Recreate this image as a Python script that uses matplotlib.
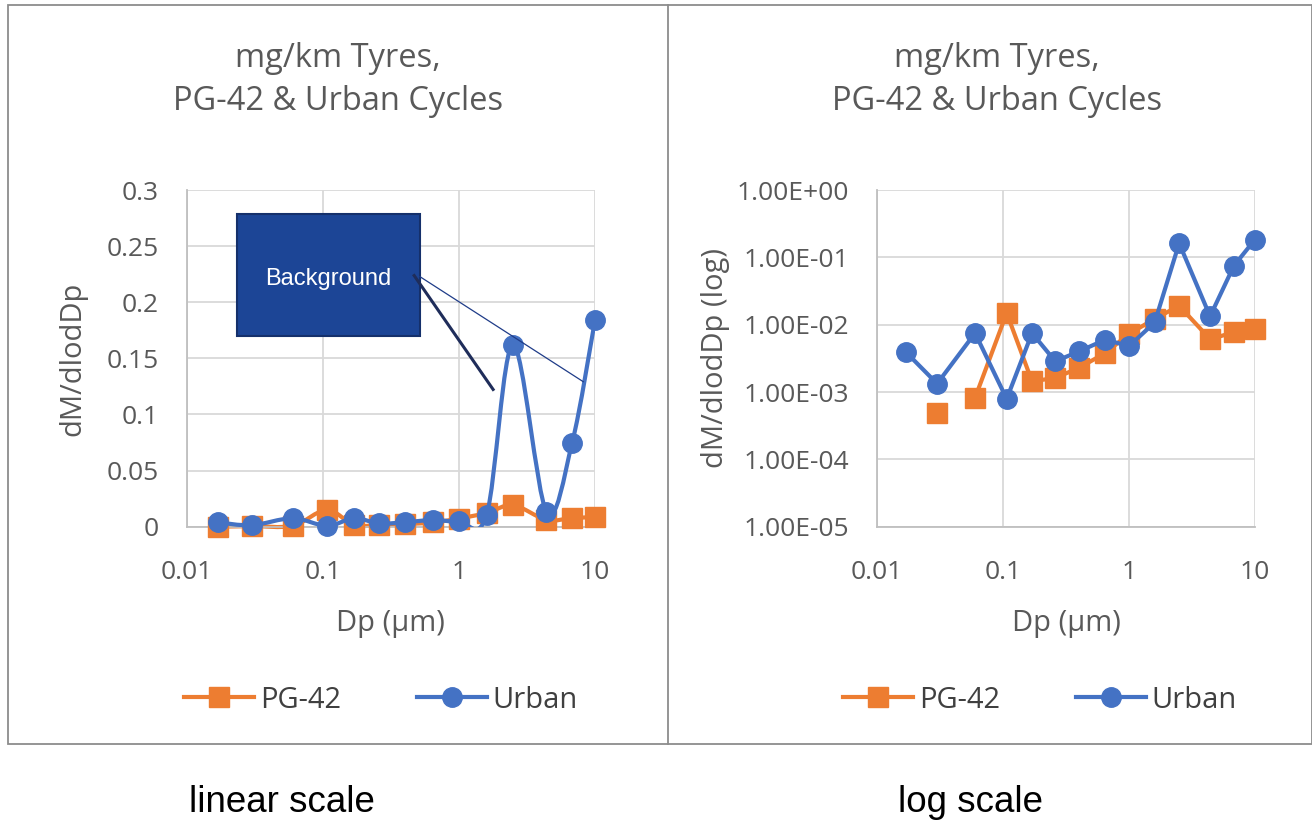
import numpy as np
import matplotlib
matplotlib.use("Agg")
import matplotlib.pyplot as plt
from matplotlib.path import Path
from matplotlib.patches import PathPatch, Rectangle
from matplotlib.lines import Line2D
from matplotlib.ticker import FixedLocator, FuncFormatter

# data
dp = [0.017, 0.030, 0.060, 0.107, 0.17, 0.26, 0.40, 0.65, 1.0, 1.6, 2.5, 4.4, 6.8, 10.0]
pg42 = [0.0, 0.00049, 0.00082, 0.0149, 0.00144, 0.00162, 0.00228, 0.0038, 0.0073,
        0.0122, 0.0191, 0.0061, 0.0077, 0.0086]
urban = [0.0039, 0.00133, 0.0075, 0.00079, 0.0075, 0.00286, 0.0040, 0.0060, 0.0048,
         0.0108, 0.162, 0.0133, 0.075, 0.184]

title = "mg/km Tyres,\nPG-42 & Urban Cycles"
lin_yticks = [0, 0.05, 0.1, 0.15, 0.2, 0.25, 0.3]
log_yticks = [1e-5, 1e-4, 1e-3, 1e-2, 1e-1, 1e0]
xticks = [0.01, 0.1, 1, 10]

ORANGE = "#ed7d31"
BLUE = "#4472c4"
GRAY = "#595959"
GRID = "#d9d9d9"
FONT = "Open Sans"

plt.rcParams["font.family"] = [FONT, "DejaVu Sans"]


def smooth_path(x, y):
    # excel-like smoothed line: cubic bezier through the points, built in log-x space
    u = np.log10(np.asarray(x, float))
    v = np.asarray(y, float)
    n = len(u)
    verts = [(x[0], v[0])]
    codes = [Path.MOVETO]
    for i in range(n - 1):
        i0 = max(i - 1, 0)
        i3 = min(i + 2, n - 1)
        c1u = u[i] + (u[i + 1] - u[i0]) / 6
        c1v = v[i] + (v[i + 1] - v[i0]) / 6
        c2u = u[i + 1] - (u[i3] - u[i]) / 6
        c2v = v[i + 1] - (v[i3] - v[i]) / 6
        verts += [(10 ** c1u, c1v), (10 ** c2u, c2v), (x[i + 1], v[i + 1])]
        codes += [Path.CURVE4] * 3
    return Path(verts, codes)


def style_axes(ax):
    ax.set_xscale("log")
    ax.set_xlim(0.01, 10)
    ax.xaxis.set_major_locator(FixedLocator(xticks))
    ax.xaxis.set_minor_locator(FixedLocator([]))
    ax.xaxis.set_major_formatter(FuncFormatter(lambda v, p: "{:g}".format(v)))
    ax.grid(True, color=GRID, linewidth=1.3)
    ax.set_axisbelow(True)
    for s in ["top", "right"]:
        ax.spines[s].set_visible(False)
    for s in ["left", "bottom"]:
        ax.spines[s].set_color("#bfbfbf")
        ax.spines[s].set_linewidth(1.3)
    ax.tick_params(length=0, labelsize=19, labelcolor=GRAY, pad=20)
    ax.tick_params(axis="x", pad=24)
    ax.set_xlabel("Dp (µm)", fontsize=21, color=GRAY, labelpad=17)


fig = plt.figure(figsize=(13.12, 8.24), dpi=100)

# panel borders
fig.add_artist(Rectangle((8 / 1312, 1 - 744 / 824), 1304 / 1312, 739 / 824,
                         transform=fig.transFigure, fill=False, edgecolor="#8c8c8c", lw=1.3))
fig.add_artist(Line2D([668 / 1312, 668 / 1312], [1 - 744 / 824, 1 - 5 / 824],
                      transform=fig.transFigure, color="#8c8c8c", lw=1.3))

ms = 14
# ---- linear panel
ax1 = fig.add_axes([186.7 / 1312, 1 - 526.7 / 824, 408.3 / 1312, 336.7 / 824])
style_axes(ax1)
ax1.set_ylim(0, 0.3)
ax1.yaxis.set_major_locator(FixedLocator(lin_yticks))
ax1.yaxis.set_major_formatter(FuncFormatter(lambda v, p: "{:g}".format(v)))
ax1.set_ylabel("dM/dlodDp", fontsize=21, color=GRAY, labelpad=14)

ax1.add_patch(PathPatch(smooth_path(dp, pg42), fill=False, edgecolor=ORANGE, lw=3,
                        zorder=2, clip_on=False))
ax1.plot(dp, pg42, ls="none", marker="s", ms=ms, color=ORANGE, zorder=3, clip_on=False)
ax1.add_patch(PathPatch(smooth_path(dp, urban), fill=False, edgecolor=BLUE, lw=3, zorder=4))
ax1.plot(dp, urban, ls="none", marker="o", ms=ms, color=BLUE, zorder=5, clip_on=False)

# "Background" callout
ax1.add_patch(Rectangle((0.1225, 0.5664), 0.449, 0.3623, transform=ax1.transAxes,
                        facecolor="#1c4596", edgecolor="#15306b", lw=1.5, zorder=6))
ax1.text(0.3458, 0.736, "Background", transform=ax1.transAxes, ha="center", va="center",
         color="white", fontsize=17, family="Liberation Sans", zorder=7)
ax1.plot([0.555, 0.7526], [0.7496, 0.4039], transform=ax1.transAxes,
         color="#1f2d5a", lw=2.2, zorder=7, solid_capstyle="butt")
ax1.plot([0.5714, 0.9713], [0.7425, 0.4306], transform=ax1.transAxes,
         color="#1f3c88", lw=0.9, zorder=7)

# ---- log panel
ax2 = fig.add_axes([877 / 1312, 1 - 526.7 / 824, 378 / 1312, 336.7 / 824])
style_axes(ax2)
ax2.set_yscale("log")
ax2.set_ylim(1e-5, 1)
ax2.yaxis.set_major_locator(FixedLocator(log_yticks))
ax2.yaxis.set_minor_locator(FixedLocator([]))
ax2.yaxis.set_major_formatter(FuncFormatter(lambda v, p: "{:.2E}".format(v)))
ax2.set_ylabel("dM/dlodDp (log)", fontsize=21, color=GRAY, labelpad=5)

pg_log = np.array(pg42, float)
pg_log[pg_log <= 0] = np.nan
ax2.plot(dp[2:], pg_log[2:], color=ORANGE, lw=3, zorder=2, clip_on=False)
ax2.plot(dp, pg_log, ls="none", marker="s", ms=ms, color=ORANGE, zorder=3, clip_on=False)
ax2.plot(dp, urban, color=BLUE, lw=3, marker="o", ms=ms, zorder=4, clip_on=False)

# titles
for cx in [338 / 1312, 997 / 1312]:
    fig.text(cx, 1 - 80 / 824, title, ha="center", va="center", fontsize=23.5,
             color=GRAY, linespacing=1.42)

# legends
handles = [Line2D([], [], color=ORANGE, lw=3, marker="s", ms=ms),
           Line2D([], [], color=BLUE, lw=3, marker="o", ms=ms)]
for cx in [381 / 1312, 1040 / 1312]:
    fig.legend(handles, ["PG-42", "Urban"], loc="center", bbox_to_anchor=(cx, 1 - 700 / 824),
               ncol=2, frameon=False, fontsize=21, labelcolor="#404040",
               handlelength=2.4, handletextpad=0.2, columnspacing=2.6)

# captions under the panels
fig.text(282 / 1312, 1 - 803 / 824, "linear scale", ha="center", va="center",
         fontsize=26.5, family="Liberation Sans", color="black")
fig.text(970 / 1312, 1 - 803 / 824, "log scale", ha="center", va="center",
         fontsize=26.5, family="Liberation Sans", color="black")

fig.savefig("out.png", dpi=100, facecolor="white")
